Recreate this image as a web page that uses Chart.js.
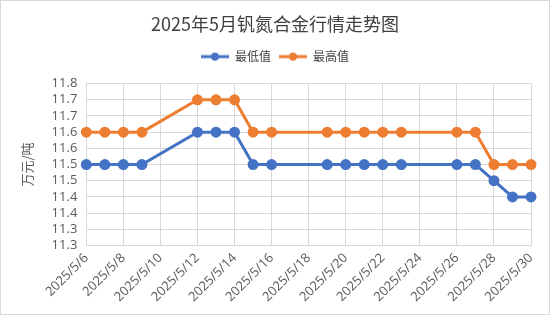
<!DOCTYPE html>
<html>
<head>
<meta charset="utf-8">
<script src="https://cdn.jsdelivr.net/npm/chart.js@4/dist/chart.umd.min.js"></script>
<style>
  body { margin: 0; background: #fff; }
  #box { position: absolute; left: 0; top: 0; width: 550px; height: 315px;
         border: 1px solid #d9d9d9; box-sizing: border-box; background: #fff; }
</style>
</head>
<body>
<div id="box"><canvas id="priceChart"></canvas></div>
<script>
// 日期（含周末，周末无报价）
var dates = ['2025/5/6', '2025/5/7', '2025/5/8', '2025/5/9', '2025/5/10', '2025/5/11',
             '2025/5/12', '2025/5/13', '2025/5/14', '2025/5/15', '2025/5/16', '2025/5/17',
             '2025/5/18', '2025/5/19', '2025/5/20', '2025/5/21', '2025/5/22', '2025/5/23',
             '2025/5/24', '2025/5/25', '2025/5/26', '2025/5/27', '2025/5/28', '2025/5/29',
             '2025/5/30'];
var lowPrice = [11.55, 11.55, 11.55, 11.55, null, null,
                11.65, 11.65, 11.65, 11.55, 11.55, null,
                null, 11.55, 11.55, 11.55, 11.55, 11.55,
                null, null, 11.55, 11.55, 11.5, 11.45,
                11.45];
var highPrice = [11.65, 11.65, 11.65, 11.65, null, null,
                 11.75, 11.75, 11.75, 11.65, 11.65, null,
                 null, 11.65, 11.65, 11.65, 11.65, 11.65,
                 null, null, 11.65, 11.65, 11.55, 11.55,
                 11.55];
// 纵轴刻度及标签
var yTicks = [11.3, 11.35, 11.4, 11.45, 11.5, 11.55, 11.6, 11.65, 11.7, 11.75, 11.8];
var yTickLabels = ['11.3', '11.3', '11.4', '11.4', '11.5', '11.5', '11.6', '11.6', '11.7', '11.7', '11.8'];

var BLUE = '#4472c4';
var ORANGE = '#ed7d31';
var CJK = "'Noto Sans CJK SC', sans-serif";
var LATIN = "'Open Sans', sans-serif";

// 图例标记：线段中间带圆点
function legendMarker(color) {
    var c = document.createElement('canvas');
    c.width = 28; c.height = 10;
    var g = c.getContext('2d');
    g.strokeStyle = color;
    g.lineWidth = 3;
    g.beginPath(); g.moveTo(0, 5); g.lineTo(28, 5); g.stroke();
    g.fillStyle = color;
    g.beginPath(); g.arc(14, 5, 4, 0, Math.PI * 2); g.fill();
    return c;
}
var markers = [legendMarker(BLUE), legendMarker(ORANGE)];

function series(label, data, color) {
    return {
        label: label,
        data: data,
        borderColor: color,
        backgroundColor: color,
        borderWidth: 3,
        pointRadius: 4,
        pointHoverRadius: 4,
        tension: 0,
        spanGaps: true
    };
}

var ctx = document.getElementById('priceChart').getContext('2d');
new Chart(ctx, {
    type: 'line',
    data: {
        labels: dates,
        datasets: [
            series('最低值', lowPrice, BLUE),
            series('最高值', highPrice, ORANGE)
        ]
    },
    options: {
        responsive: true,
        maintainAspectRatio: false,
        animation: false,
        layout: { padding: { left: 18, right: 18, top: 8, bottom: 4 } },
        plugins: {
            title: {
                display: true,
                text: '2025年5月钒氮合金行情走势图',
                color: '#404040',
                font: { family: CJK, size: 18, weight: 'normal' },
                padding: { top: 4, bottom: 8 }
            },
            legend: {
                labels: {
                    usePointStyle: true,
                    pointStyleWidth: 28,
                    boxHeight: 10,
                    padding: 8,
                    color: '#404040',
                    font: { family: CJK, size: 12 },
                    generateLabels: function(chart) {
                        var items = Chart.defaults.plugins.legend.labels.generateLabels(chart);
                        items.forEach(function(it) { it.pointStyle = markers[it.datasetIndex]; });
                        return items;
                    }
                }
            },
            tooltip: { enabled: false }
        },
        scales: {
            x: {
                offset: false,
                grid: { color: '#d9d9d9', drawTicks: false },
                border: { color: '#d9d9d9' },
                ticks: {
                    autoSkip: false,
                    maxRotation: 45,
                    minRotation: 45,
                    padding: 5,
                    color: '#595959',
                    font: { family: LATIN, size: 13 },
                    // 隔一天显示一个日期，未显示的日期不画网格线
                    callback: function(value, index) {
                        return index % 2 === 0 ? this.getLabelForValue(value) : null;
                    }
                }
            },
            y: {
                min: 11.3,
                max: 11.8,
                grid: { color: '#d9d9d9', drawTicks: false },
                border: { color: '#d9d9d9' },
                afterBuildTicks: function(axis) {
                    axis.ticks = yTicks.map(function(v) { return { value: v }; });
                },
                ticks: {
                    autoSkip: false,
                    padding: 9,
                    color: '#595959',
                    font: { family: LATIN, size: 13 },
                    callback: function(value, index) { return yTickLabels[index]; }
                },
                title: {
                    display: true,
                    text: '万元/吨',
                    color: '#595959',
                    font: { family: CJK, size: 13 },
                    padding: { top: 0, bottom: 8 }
                }
            }
        }
    },
    plugins: [{
        // 图例与绘图区之间留出间距
        id: 'legendGap',
        beforeInit: function(chart) {
            var fit = chart.legend.fit;
            chart.legend.fit = function() {
                fit.bind(chart.legend)();
                this.height += 11;
            };
        }
    }]
});
</script>
</body>
</html>
